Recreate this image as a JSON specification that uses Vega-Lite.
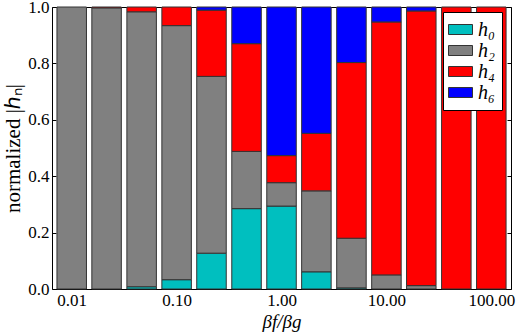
{
  "$schema": "https://vega.github.io/schema/vega-lite/v6.json",
  "width": 459,
  "height": 282,
  "autosize": {"type": "none"},
  "padding": {"left": 52, "top": 7, "right": 10, "bottom": 43},
  "background": "white",
  "config": {
    "view": {"stroke": "black", "strokeWidth": 1},
    "font": "Liberation Serif",
    "axis": {
      "labelFont": "Liberation Serif",
      "titleFont": "Liberation Serif",
      "labelColor": "black",
      "titleColor": "black",
      "labelFontSize": 17,
      "titleFontSize": 18,
      "titleFontWeight": "normal",
      "grid": false,
      "domain": false,
      "tickColor": "black",
      "tickSize": -4,
      "labelPadding": 7
    }
  },
  "data": {
    "values": [
      {"ratio": 0.01, "component": "h₂", "value": 1.0},
      {"ratio": 0.0215, "component": "h₂", "value": 0.997},
      {"ratio": 0.0215, "component": "h₄", "value": 0.003},
      {"ratio": 0.0464, "component": "h₀", "value": 0.008},
      {"ratio": 0.0464, "component": "h₂", "value": 0.975},
      {"ratio": 0.0464, "component": "h₄", "value": 0.017},
      {"ratio": 0.1, "component": "h₀", "value": 0.033},
      {"ratio": 0.1, "component": "h₂", "value": 0.901},
      {"ratio": 0.1, "component": "h₄", "value": 0.066},
      {"ratio": 0.215, "component": "h₀", "value": 0.127},
      {"ratio": 0.215, "component": "h₂", "value": 0.627},
      {"ratio": 0.215, "component": "h₄", "value": 0.235},
      {"ratio": 0.215, "component": "h₆", "value": 0.011},
      {"ratio": 0.464, "component": "h₀", "value": 0.285},
      {"ratio": 0.464, "component": "h₂", "value": 0.203},
      {"ratio": 0.464, "component": "h₄", "value": 0.382},
      {"ratio": 0.464, "component": "h₆", "value": 0.130},
      {"ratio": 1.0, "component": "h₀", "value": 0.294},
      {"ratio": 1.0, "component": "h₂", "value": 0.083},
      {"ratio": 1.0, "component": "h₄", "value": 0.096},
      {"ratio": 1.0, "component": "h₆", "value": 0.527},
      {"ratio": 2.15, "component": "h₀", "value": 0.061},
      {"ratio": 2.15, "component": "h₂", "value": 0.287},
      {"ratio": 2.15, "component": "h₄", "value": 0.204},
      {"ratio": 2.15, "component": "h₆", "value": 0.448},
      {"ratio": 4.64, "component": "h₀", "value": 0.004},
      {"ratio": 4.64, "component": "h₂", "value": 0.176},
      {"ratio": 4.64, "component": "h₄", "value": 0.623},
      {"ratio": 4.64, "component": "h₆", "value": 0.197},
      {"ratio": 10.0, "component": "h₂", "value": 0.05},
      {"ratio": 10.0, "component": "h₄", "value": 0.897},
      {"ratio": 10.0, "component": "h₆", "value": 0.053},
      {"ratio": 21.5, "component": "h₂", "value": 0.012},
      {"ratio": 21.5, "component": "h₄", "value": 0.974},
      {"ratio": 21.5, "component": "h₆", "value": 0.014},
      {"ratio": 46.4, "component": "h₄", "value": 1.0},
      {"ratio": 100.0, "component": "h₄", "value": 1.0}
    ]
  },
  "layer": [
    {
      "mark": {"type": "bar", "size": 29.5, "stroke": "#333333", "strokeWidth": 1},
      "encoding": {
        "x": {
          "field": "ratio",
          "type": "quantitative",
          "scale": {"type": "log", "domain": [0.00724, 138], "nice": false},
          "axis": {"values": [0.01, 0.1, 1, 10, 100], "format": ".2f", "title": "βf/βg", "titleFontStyle": "italic", "titleFontSize": 19, "titlePadding": 4, "labelFlush": false}
        },
        "y": {
          "field": "value",
          "type": "quantitative",
          "stack": "zero",
          "scale": {"domain": [0, 1], "nice": false},
          "axis": {"values": [0, 0.2, 0.4, 0.6, 0.8, 1.0], "format": ".1f", "title": "normalized |ℎₙ|", "titleFontSize": 21, "titlePadding": 4}
        },
        "color": {
          "field": "component",
          "type": "nominal",
          "scale": {"domain": ["h₀", "h₂", "h₄", "h₆"], "range": ["#00bfbf", "#808080", "#ff0000", "#0000ff"]},
          "legend": {
            "title": null,
            "orient": "none",
            "legendX": 391,
            "legendY": 5,
            "direction": "vertical",
            "fillColor": "white",
            "strokeColor": "black",
            "padding": 7,
            "rowPadding": 0,
            "symbolType": "M-1.2,-0.5H1.2V0.5H-1.2Z",
            "symbolSize": 400,
            "symbolStrokeColor": "#333333",
            "symbolStrokeWidth": 1,
            "labelFont": "Liberation Serif",
            "labelFontStyle": "italic",
            "labelFontSize": 20,
            "labelColor": "black",
            "labelOffset": 7
          }
        },
        "order": {"field": "component", "sort": "ascending"}
      }
    },
    {
      "mark": {"type": "bar", "size": 29.5, "opacity": 0},
      "encoding": {
        "x": {
          "field": "ratio",
          "type": "quantitative",
          "axis": {"orient": "top", "values": [0.01, 0.1, 1, 10, 100], "labels": false, "title": null}
        },
        "y": {
          "field": "value",
          "type": "quantitative",
          "stack": "zero",
          "axis": {"orient": "right", "values": [0, 0.2, 0.4, 0.6, 0.8, 1.0], "labels": false, "title": null}
        }
      }
    }
  ],
  "resolve": {"axis": {"x": "independent", "y": "independent"}}
}
